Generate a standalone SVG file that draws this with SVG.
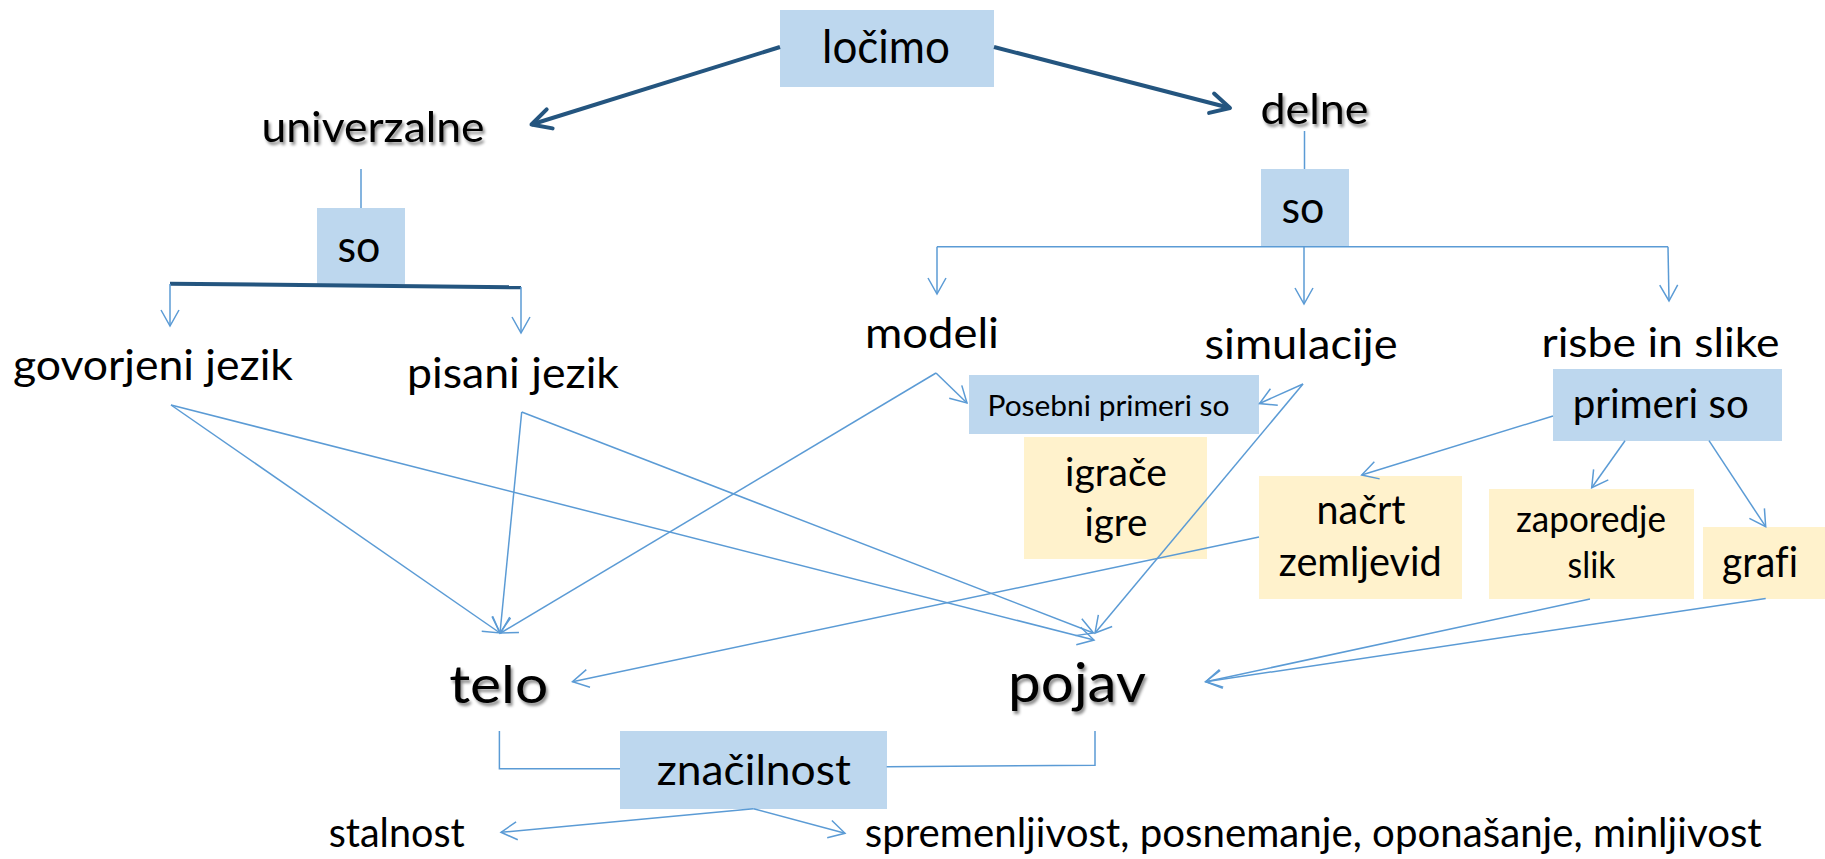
<svg xmlns="http://www.w3.org/2000/svg" width="1825" height="859" viewBox="0 0 1825 859">
<style>
text{font-family:Lato,"Liberation Sans",sans-serif;fill:#000;text-anchor:middle;font-variant-ligatures:none;font-feature-settings:"liga" 0}
.b{fill:#BDD7EE}
.y{fill:#FFF2CC}
.c{fill:none;stroke:#5B9BD5;stroke-width:1.5}
.ca{fill:none;stroke:#5B9BD5;stroke-width:1.5;marker-end:url(#ta)}
.k{fill:none;stroke:#24557F;stroke-width:4}
.ka{fill:none;stroke:#24557F;stroke-width:4;marker-end:url(#ka)}
.sh{filter:url(#shadow)}
</style>
<defs>
<marker id="ta" markerUnits="userSpaceOnUse" orient="auto" markerWidth="40" markerHeight="40" refX="0" refY="0" viewBox="-20 -20 40 40" overflow="visible">
<path d="M-16,-9 L0,0 L-16,9" fill="none" stroke="#5B9BD5" stroke-width="1.5"/>
</marker>
<marker id="ka" markerUnits="userSpaceOnUse" orient="auto" markerWidth="50" markerHeight="50" refX="0" refY="0" viewBox="-25 -25 50 50" overflow="visible">
<path d="M-19,-10 L0,0 L-19,10" fill="none" stroke="#24557F" stroke-width="4" stroke-linecap="round" stroke-linejoin="round"/>
</marker>
<filter id="shadow" x="-10%" y="-20%" width="130%" height="160%">
<feDropShadow dx="2" dy="3" stdDeviation="1.5" flood-color="#000" flood-opacity="0.45"/>
</filter>
</defs>

<g id="node-locimo"><rect class="b" x="780" y="10" width="214" height="77"/><text x="886" y="63" font-size="46" textLength="128" lengthAdjust="spacingAndGlyphs">ločimo</text></g>
<g id="node-univerzalne"><text class="sh" x="373" y="141.5" font-size="42" textLength="223" lengthAdjust="spacingAndGlyphs">univerzalne</text></g>
<g id="node-delne"><text class="sh" x="1314.5" y="124" font-size="42" textLength="108" lengthAdjust="spacingAndGlyphs">delne</text></g>
<g id="node-so-univ"><rect class="b" x="317" y="208" width="88" height="76"/><text x="359" y="261.7" font-size="44" textLength="43" lengthAdjust="spacingAndGlyphs">so</text></g>
<g id="node-so-delne"><rect class="b" x="1261" y="169" width="88" height="77"/><text x="1303" y="223" font-size="44" textLength="43" lengthAdjust="spacingAndGlyphs">so</text></g>
<g id="node-govorjeni"><text x="153" y="380" font-size="42" textLength="280" lengthAdjust="spacingAndGlyphs">govorjeni jezik</text></g>
<g id="node-pisani"><text x="513" y="388" font-size="42" textLength="212" lengthAdjust="spacingAndGlyphs">pisani jezik</text></g>
<g id="node-modeli"><text x="932" y="348" font-size="42" textLength="134" lengthAdjust="spacingAndGlyphs">modeli</text></g>
<g id="node-simulacije"><text x="1301" y="359" font-size="42" textLength="193" lengthAdjust="spacingAndGlyphs">simulacije</text></g>
<g id="node-risbe"><text x="1660.5" y="356.7" font-size="41" textLength="238" lengthAdjust="spacingAndGlyphs">risbe in slike</text></g>
<g id="node-posebni"><rect class="b" x="969" y="375" width="290" height="59"/><text x="1108.5" y="416" font-size="28" textLength="242" lengthAdjust="spacingAndGlyphs">Posebni primeri so</text></g>
<g id="node-primeri"><rect class="b" x="1553" y="369" width="229" height="72"/><text x="1660.7" y="418.3" font-size="41" textLength="176" lengthAdjust="spacingAndGlyphs">primeri so</text></g>
<g id="node-igrace"><rect class="y" x="1024" y="437" width="183" height="122"/><text x="1116" y="486" font-size="39" textLength="102" lengthAdjust="spacingAndGlyphs">igrače</text><text x="1116" y="535.7" font-size="39" textLength="63" lengthAdjust="spacingAndGlyphs">igre</text></g>
<g id="node-nacrt"><rect class="y" x="1259" y="476" width="203" height="123"/><text x="1361" y="524" font-size="40" textLength="89" lengthAdjust="spacingAndGlyphs">načrt</text><text x="1360.3" y="576" font-size="40" textLength="163" lengthAdjust="spacingAndGlyphs">zemljevid</text></g>
<g id="node-zaporedje"><rect class="y" x="1489" y="489" width="205" height="110"/><text x="1591" y="531.7" font-size="36" textLength="150" lengthAdjust="spacingAndGlyphs">zaporedje</text><text x="1591.5" y="577.7" font-size="36" textLength="48" lengthAdjust="spacingAndGlyphs">slik</text></g>
<g id="node-grafi"><rect class="y" x="1703" y="527" width="122" height="72"/><text x="1760" y="576.5" font-size="42" textLength="76" lengthAdjust="spacingAndGlyphs">grafi</text></g>
<g id="node-telo"><text class="sh" x="498.7" y="702.7" font-size="53" textLength="99" lengthAdjust="spacingAndGlyphs">telo</text></g>
<g id="node-pojav"><text class="sh" x="1077" y="701.7" font-size="55" textLength="138" lengthAdjust="spacingAndGlyphs">pojav</text></g>
<g id="node-znacilnost"><rect class="b" x="620" y="731" width="267" height="78"/><text x="753.8" y="785" font-size="42" textLength="194" lengthAdjust="spacingAndGlyphs">značilnost</text></g>
<g id="node-stalnost"><text x="396.7" y="846.7" font-size="40" textLength="136" lengthAdjust="spacingAndGlyphs">stalnost</text></g>
<g id="node-spremenljivost"><text x="1313.3" y="846.7" font-size="40" textLength="897" lengthAdjust="spacingAndGlyphs">spremenljivost, posnemanje, oponašanje, minljivost</text></g>

<g id="connectors">
<path class="ka" d="M780,47 L531.5,124.5"/>
<path class="ka" d="M994,47 L1230,108"/>
<path class="c" d="M361,169 V208"/>
<path class="k" d="M170,283.7 L521,287.3"/>
<path class="ca" d="M170,284 V326"/>
<path class="ca" d="M521,287 V333"/>
<path class="c" d="M1304.5,131 V169"/>
<path class="c" d="M937,246.7 H1668"/>
<path class="ca" d="M937,246.7 V294"/>
<path class="ca" d="M1304,246.7 V304"/>
<path class="ca" d="M1668,246.7 L1669,301"/>
<path class="ca" d="M936,373 L967,403"/>
<path class="ca" d="M936,373 L500.6,633"/>
<path class="ca" d="M1303,384 L1259.5,403.5"/>
<path class="ca" d="M1303,384 L1095,633"/>
<path class="ca" d="M171,405 L500,633"/>
<path class="ca" d="M171,405 L1094,640"/>
<path class="ca" d="M521.7,412 L500,633"/>
<path class="ca" d="M521.7,412 L1093.5,633"/>
<path class="ca" d="M1259,537 L572.5,681.7"/>
<path class="ca" d="M1553,416 L1361.7,475"/>
<path class="ca" d="M1625,440.7 L1591.7,487.7"/>
<path class="ca" d="M1709,440.7 L1765.7,526.7"/>
<path class="ca" d="M1590,599 L1205.7,681.7"/>
<path class="ca" d="M1765.7,598.5 L1205.7,681.7"/>
<path class="c" d="M499.4,731 V768.7 H620"/>
<path class="c" d="M886.7,766.7 L1095,765.3 V731"/>
<path class="ca" d="M753.5,808.7 L501,832.3"/>
<path class="ca" d="M753.5,808.7 L845,833.3"/>
</g>
</svg>
